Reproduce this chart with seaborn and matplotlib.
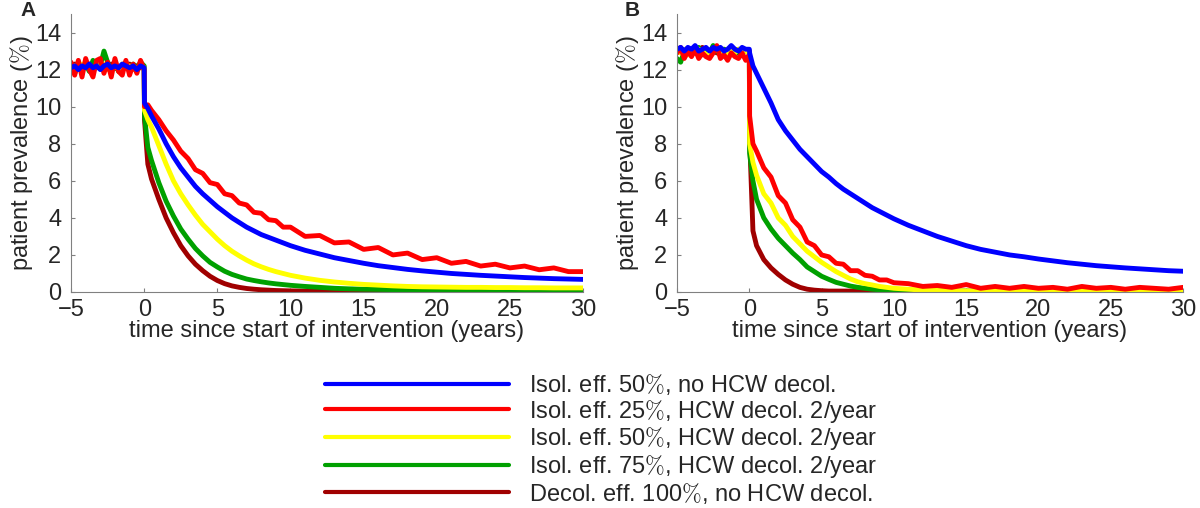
import pandas as pd
import matplotlib
matplotlib.use('Agg')
import matplotlib.pyplot as plt
from matplotlib.lines import Line2D
import seaborn as sns

sns.set_style('white')
plt.rcParams['font.family'] = ['Liberation Sans', 'DejaVu Sans']
plt.rcParams['mathtext.fontset'] = 'cm'

# time grid (years since start of intervention)
time = [-5.0, -4.75, -4.5, -4.25, -4.0, -3.75, -3.5, -3.25, -3.0, -2.75, -2.5,
        -2.25, -2.0, -1.75, -1.5, -1.25, -1.0, -0.75, -0.5, -0.25, 0.0,
        0.02, 0.25, 0.5, 1.0, 1.5, 2.0, 2.5, 3.0, 3.5, 4.0, 4.5, 5.0, 5.5, 6.0,
        6.5, 7.0, 7.5, 8.0, 8.5, 9.0, 9.5, 10.0, 11, 12, 13, 14, 15, 16, 17, 18,
        19, 20, 21, 22, 23, 24, 25, 26, 27, 28, 29, 30]

labels = ['Isol. eff. 50$\\%$, no HCW decol.',
          'Isol. eff. 25$\\%$, HCW decol. 2/year',
          'Isol. eff. 50$\\%$, HCW decol. 2/year',
          'Isol. eff. 75$\\%$, HCW decol. 2/year',
          'Decol. eff. 100$\\%$, no HCW decol.']
colors = ['#0000ff', '#ff0000', '#ffff00', '#00a000', '#a00000']

# panel A
a_blue = [12.1, 12.2, 12.0, 12.2, 12.1, 12.3, 12.1, 12.2, 12.0, 12.2, 12.3, 12.1, 12.2, 12.1, 12.3, 12.2, 12.1, 12.2, 12.0, 12.2, 12.1,
          10.2, 9.9, 9.5, 8.8, 8.0, 7.3, 6.7, 6.2, 5.7, 5.3, 4.95, 4.6, 4.3, 4.0, 3.75, 3.5, 3.3, 3.1, 2.95, 2.8, 2.65, 2.5,
          2.25, 2.05, 1.85, 1.7, 1.55, 1.42, 1.32, 1.22, 1.14, 1.07, 1.0, 0.95, 0.9, 0.86, 0.82, 0.78, 0.75, 0.72, 0.7, 0.68]
a_red = [12.4, 11.7, 12.5, 11.6, 12.6, 12.0, 11.6, 12.5, 12.6, 11.8, 12.4, 11.6, 12.6, 11.9, 11.7, 12.5, 11.7, 12.3, 11.8, 12.5, 12.0,
         10.0, 10.1, 9.8, 9.3, 8.7, 8.2, 7.6, 7.2, 6.6, 6.4, 5.9, 5.8, 5.3, 5.2, 4.8, 4.7, 4.3, 4.25, 3.9, 3.85, 3.5, 3.5,
         3.0, 3.05, 2.65, 2.7, 2.3, 2.4, 2.0, 2.1, 1.75, 1.85, 1.55, 1.65, 1.4, 1.5, 1.3, 1.4, 1.2, 1.3, 1.1, 1.1]
a_yellow = [12.1, 12.2, 12.0, 12.3, 12.1, 12.2, 12.0, 12.2, 12.1, 12.3, 12.0, 12.1, 12.2, 12.0, 12.3, 12.1, 12.2, 12.0, 12.1, 12.2, 12.1,
            9.8, 9.3, 8.9, 7.9, 6.9, 6.0, 5.3, 4.7, 4.15, 3.65, 3.25, 2.85, 2.5, 2.2, 1.95, 1.72, 1.52, 1.36, 1.22, 1.1, 1.0, 0.9,
            0.75, 0.63, 0.54, 0.47, 0.41, 0.37, 0.33, 0.3, 0.28, 0.27, 0.26, 0.25, 0.25, 0.24, 0.24, 0.23, 0.23, 0.22, 0.22, 0.22]
a_green = [12.2, 11.8, 12.4, 12.0, 12.3, 11.9, 12.5, 12.1, 12.2, 13.0, 12.4, 12.0, 12.3, 11.9, 12.2, 12.4, 12.0, 12.3, 12.1, 12.4, 12.2,
           9.5, 7.8, 7.1, 5.9, 4.9, 4.1, 3.4, 2.85, 2.35, 1.95, 1.6, 1.35, 1.12, 0.95, 0.82, 0.7, 0.62, 0.55, 0.49, 0.44, 0.4, 0.36,
           0.3, 0.25, 0.2, 0.17, 0.15, 0.14, 0.13, 0.12, 0.12, 0.11, 0.1, 0.1, 0.1, 0.1, 0.1, 0.1, 0.1, 0.1, 0.1, 0.1]
a_darkred = [12.1, 12.3, 12.0, 12.2, 12.1, 12.3, 12.0, 12.2, 12.1, 12.0, 12.2, 12.3, 12.1, 12.0, 12.2, 12.1, 12.3, 12.0, 12.2, 12.1, 12.1,
             9.3, 6.9, 6.1, 5.0, 4.0, 3.2, 2.5, 1.95, 1.5, 1.15, 0.85, 0.62, 0.45, 0.33, 0.25, 0.19, 0.15, 0.12, 0.1, 0.08, 0.07, 0.06,
             0.05, 0.05, 0.05, 0.05, 0.05, 0.05, 0.05, 0.05, 0.05, 0.05, 0.05, 0.05, 0.05, 0.05, 0.05, 0.05, 0.05, 0.05, 0.05, 0.05]

# panel B
b_blue = [13.1, 13.2, 13.0, 13.2, 13.1, 13.3, 13.0, 13.1, 13.2, 13.0, 13.2, 13.1, 13.2, 13.0, 13.1, 13.3, 13.1, 13.0, 13.2, 13.1, 13.1,
          12.9, 12.2, 11.8, 11.0, 10.2, 9.3, 8.7, 8.2, 7.7, 7.3, 6.9, 6.5, 6.2, 5.85, 5.55, 5.3, 5.05, 4.8, 4.55, 4.35, 4.15, 3.95,
          3.6, 3.3, 3.0, 2.75, 2.5, 2.3, 2.15, 2.0, 1.9, 1.78, 1.68, 1.58, 1.5, 1.42, 1.36, 1.3, 1.25, 1.2, 1.15, 1.12]
b_red = [12.9, 13.2, 12.6, 13.0, 12.7, 13.1, 12.6, 12.9, 12.7, 12.6, 12.9, 13.3, 12.6, 12.8, 12.5, 12.9, 12.7, 12.6, 12.9, 12.5, 12.8,
         9.5, 8.0, 7.6, 6.7, 6.2, 5.2, 4.8, 3.9, 3.5, 2.7, 2.5, 2.0, 1.9, 1.55, 1.5, 1.15, 1.15, 0.9, 0.85, 0.65, 0.65, 0.5,
         0.45, 0.3, 0.35, 0.25, 0.4, 0.2, 0.3, 0.2, 0.3, 0.2, 0.25, 0.15, 0.3, 0.2, 0.25, 0.15, 0.25, 0.2, 0.15, 0.25]
b_yellow = [13.0, 12.9, 13.1, 12.8, 13.0, 12.9, 13.1, 13.0, 12.8, 12.9, 13.0, 13.1, 12.9, 13.0, 12.8, 13.0, 12.9, 13.1, 12.9, 13.0, 12.9,
            8.0, 7.0, 6.3, 5.3, 4.8, 4.0, 3.6, 3.0, 2.6, 2.2, 1.9, 1.6, 1.35, 1.1, 0.9, 0.7, 0.55, 0.45, 0.38, 0.3, 0.25, 0.2,
            0.15, 0.1, 0.08, 0.07, 0.06, 0.05, 0.05, 0.05, 0.05, 0.05, 0.05, 0.05, 0.05, 0.05, 0.05, 0.05, 0.05, 0.05, 0.05, 0.05]
b_green = [12.6, 12.4, 13.0, 12.8, 13.1, 12.9, 13.2, 12.8, 13.0, 12.9, 13.3, 13.0, 12.8, 13.1, 12.9, 13.0, 12.8, 13.1, 12.9, 13.0, 12.9,
           7.5, 6.0, 5.0, 4.0, 3.4, 2.9, 2.5, 2.1, 1.75, 1.35, 1.1, 0.85, 0.68, 0.52, 0.42, 0.32, 0.25, 0.2, 0.15, 0.12, 0.1, 0.08,
           0.06, 0.05, 0.05, 0.05, 0.05, 0.05, 0.05, 0.05, 0.05, 0.05, 0.05, 0.05, 0.05, 0.05, 0.05, 0.05, 0.05, 0.05, 0.05, 0.05]
b_darkred = [13.0, 13.1, 12.9, 13.0, 13.1, 12.9, 13.0, 13.2, 12.9, 13.0, 13.1, 12.9, 13.0, 13.1, 12.9, 13.0, 13.1, 12.9, 13.0, 13.0, 13.0,
             8.3, 3.3, 2.5, 1.75, 1.3, 0.95, 0.65, 0.42, 0.25, 0.15, 0.1, 0.07, 0.05, 0.05, 0.05, 0.05, 0.05, 0.05, 0.05, 0.05, 0.05, 0.05,
             0.04, 0.04, 0.04, 0.04, 0.04, 0.04, 0.04, 0.04, 0.04, 0.04, 0.04, 0.04, 0.04, 0.04, 0.04, 0.04, 0.04, 0.04, 0.04, 0.04]

panels = {'A': [a_blue, a_red, a_yellow, a_green, a_darkred],
          'B': [b_blue, b_red, b_yellow, b_green, b_darkred]}


def panel_frame(series):
    parts = [pd.DataFrame({'time': time, 'prev': vals, 'scenario': lab})
             for lab, vals in zip(labels, series)]
    return pd.concat(parts, ignore_index=True)


palette = dict(zip(labels, colors))
draw_order = labels[::-1]  # blue ends up on top

fig = plt.figure(figsize=(12, 5.08), dpi=100)
axes = [fig.add_axes([0.0592, 0.4252, 0.4267, 0.5472]),
        fig.add_axes([0.5642, 0.4252, 0.4217, 0.5472])]

for ax, (name, series) in zip(axes, panels.items()):
    df = panel_frame(series)
    sns.lineplot(data=df, x='time', y='prev', hue='scenario', hue_order=draw_order,
                 palette=palette, estimator=None, sort=False, lw=3.5, legend=False, ax=ax)
    ax.set_xlim(-5, 30)
    ax.set_ylim(0, 15)
    ax.set_xticks([-5, 0, 5, 10, 15, 20, 25, 30])
    ax.set_yticks([0, 2, 4, 6, 8, 10, 12, 14])
    ax.set_xlabel('time since start of intervention (years)', fontsize=17, labelpad=-1)
    ax.set_ylabel('patient prevalence ($\\%$)', fontsize=17, labelpad=0)
    sns.despine(ax=ax)
    for s in ['left', 'bottom']:
        ax.spines[s].set_color('#808080')
        ax.spines[s].set_linewidth(0.8)
    ax.tick_params(direction='in', length=3, color='#808080', labelsize=17,
                   bottom=True, left=True)
    ax.tick_params(axis='x', pad=5)
    ax.tick_params(axis='y', pad=7)

# panel letters, top-left corner beside each axis
fig.text(20 / 1200, 1 - 1 / 508, 'A', fontsize=15, fontweight='bold', ha='left', va='top')
fig.text(625 / 1200, 1 - 1 / 508, 'B', fontsize=15, fontweight='bold', ha='left', va='top')

handles = [Line2D([], [], color=c, lw=3) for c in colors]
fig.legend(handles, labels, loc='upper left', bbox_to_anchor=(0.271, 0.268),
           frameon=False, fontsize=17, handlelength=7.8, handletextpad=0.85,
           labelspacing=0.03, borderpad=0, borderaxespad=0)

fig.savefig('out.png', dpi=100)
